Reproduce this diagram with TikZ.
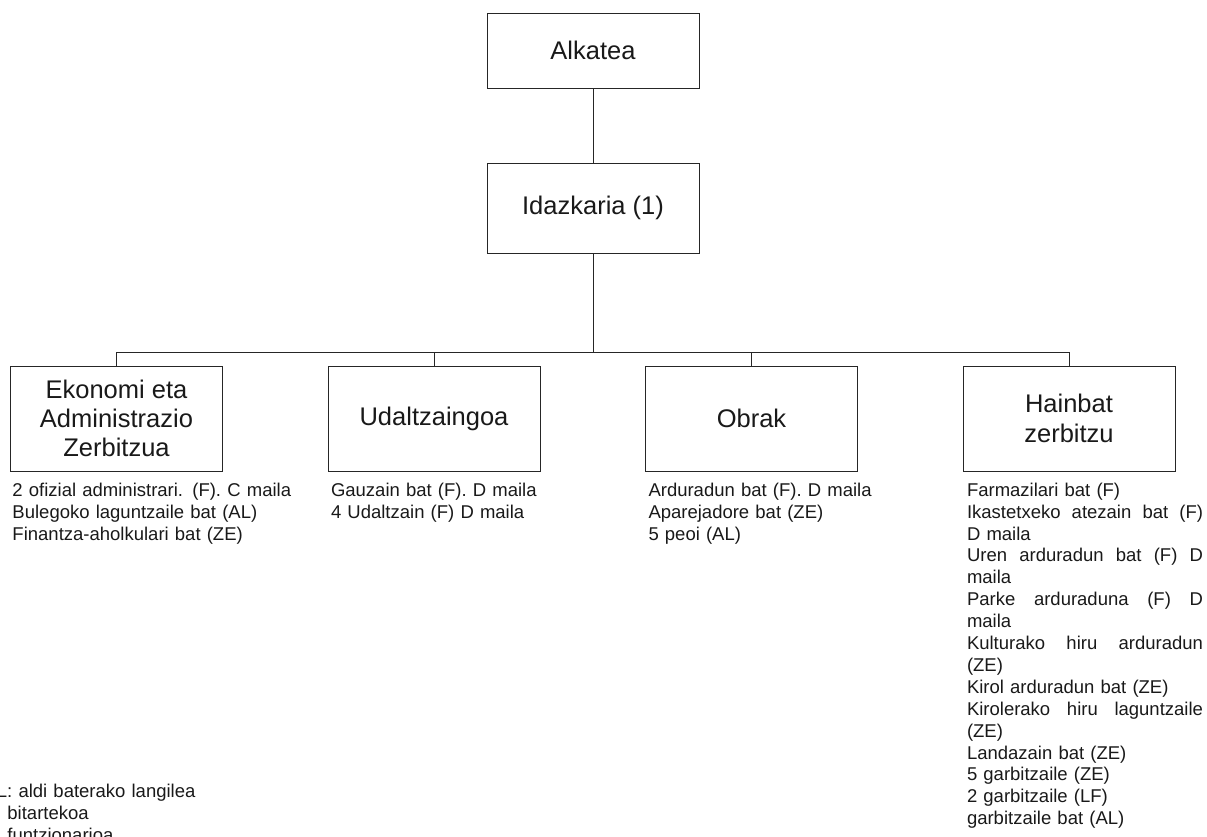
\documentclass[tikz,border=0pt]{standalone}
\usepackage{fontspec}
\setmainfont{Liberation Sans}
\usepackage{tikz}
\usetikzlibrary{positioning}
\newcommand{\fullline}[1]{\makebox[\hsize][s]{\spaceskip=0pt\xspaceskip=0pt #1}}

\begin{document}
\begin{tikzpicture}[x=1pt,y=-1pt,line width=0.9pt,node distance=157.5pt,black!85]
\tikzstyle{unit}=[draw,rectangle,minimum width=212pt,inner sep=0pt,align=center,text=black!90,font=\fontsize{25.5}{29.3}\selectfont]
\tikzstyle{staff}=[inner sep=0pt,text width=300pt,align=left,text=black!90,font=\fontsize{18.5}{21.9}\selectfont]
\useasboundingbox (0,0) rectangle (1207,837);
\node[unit,minimum height=75pt]  (alk)  at (593,50.5)   {Alkatea};
\node[unit,minimum height=90pt]  (idaz) [below of=alk]  {Idazkaria (1)};
\coordinate (bar) at (593,352);
\node[unit,minimum height=105pt] (eko)  at (116.5,418.5) {Ekonomi eta\\Administrazio\\Zerbitzua};
\node[unit,minimum height=105pt] (udal) [right of=eko,node distance=317.5pt]  {Udaltzaingoa};
\node[unit,minimum height=105pt] (obra) [right of=udal,node distance=317.5pt] {Obrak};
\node[unit,minimum height=105pt] (hain) [right of=obra,node distance=317.5pt] {Hainbat\\zerbitzu};

\node[staff,below right=9pt and 2pt of eko.south west]  (ekostaff)  {\strut 2 ofizial administrari. (F). C maila\\Bulegoko laguntzaile bat (AL)\\Finantza-aholkulari bat (ZE)};
\node[staff,below right=9pt and 3pt of udal.south west] (udalstaff) {\strut Gauzain bat (F). D maila\\4 Udaltzain (F) D maila};
\node[staff,below right=9pt and 3pt of obra.south west] (obrastaff) {\strut Arduradun bat (F). D maila\\Aparejadore bat (ZE)\\5 peoi (AL)};
\node[staff,text width=236pt,below right=9pt and 4pt of hain.south west] (hainstaff) {\strut Farmazilari bat (F)\\
  \fullline{Ikastetxeko atezain bat (F)}\\D maila\\
  \fullline{Uren arduradun bat (F) D}\\maila\\
  \fullline{Parke arduraduna (F) D}\\maila\\
  \fullline{Kulturako hiru arduradun}\\(ZE)\\
  Kirol arduradun bat (ZE)\\
  \fullline{Kirolerako hiru laguntzaile}\\(ZE)\\
  Landazain bat (ZE)\\5 garbitzaile (ZE)\\2 garbitzaile (LF)\\garbitzaile bat (AL)};
% legenda, ezkerrean moztuta
\node[staff,anchor=north west] (legend) at (-3.5,781.7) {\strut L: aldi baterako langilea\\\hspace*{10.5pt}bitartekoa\\\hspace*{10.5pt}funtzionarioa};

\path (alk) edge (idaz)
      (idaz) edge (bar);
\foreach \c in {eko,udal,obra,hain}
  \draw (bar) -| (\c.north);
\end{tikzpicture}
\end{document}
